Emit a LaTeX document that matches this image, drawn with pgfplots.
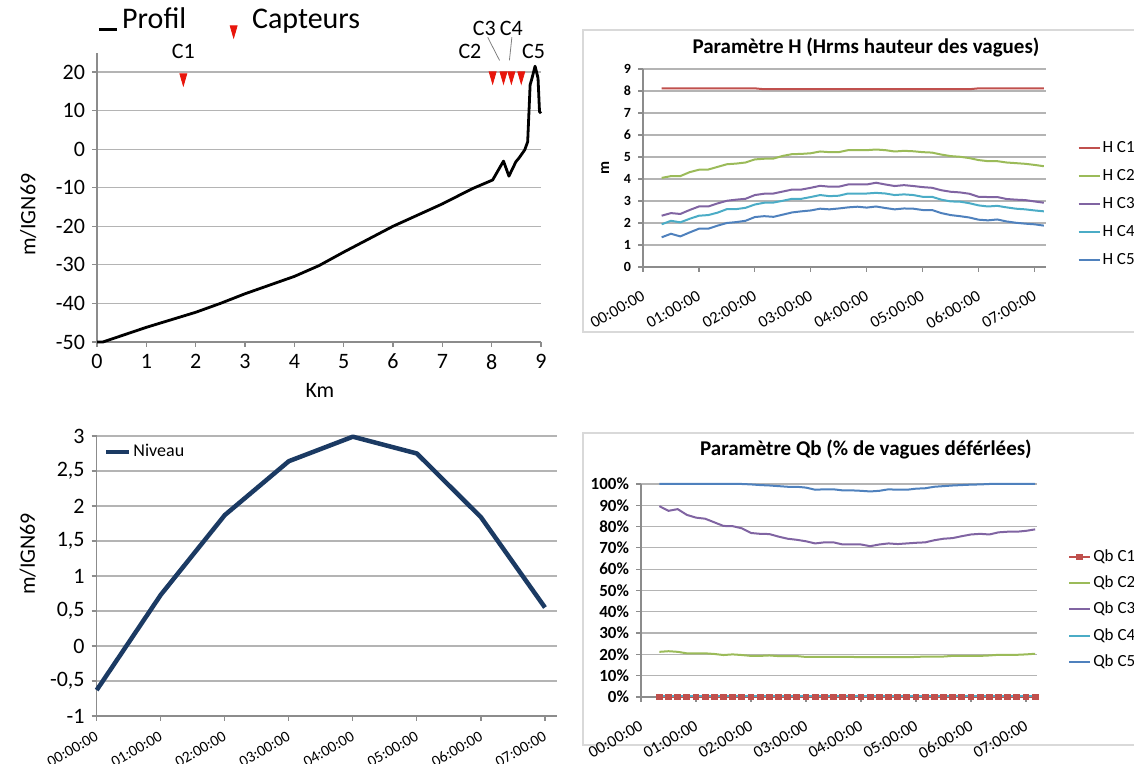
\documentclass[border=0pt]{standalone}
\usepackage{fontspec}
\setmainfont{Carlito}
\usepackage{pgfplots}
\usepackage{pgfplotstable}
\pgfplotsset{compat=1.18}
\definecolor{hA}{HTML}{C0504D}
\definecolor{hB}{HTML}{9BBB59}
\definecolor{hC}{HTML}{8064A2}
\definecolor{hD}{HTML}{4BACC6}
\definecolor{hE}{HTML}{4F81BD}
\definecolor{gridc}{HTML}{B4B4B4}
\definecolor{axc}{HTML}{8C8C8C}
\definecolor{boxc}{HTML}{D9D9D9}
\definecolor{navy}{HTML}{1B3A63}
\definecolor{capt}{HTML}{E8160C}

\pgfplotstableread{
t c1 c2 c3 c4 c5
0.3333 8.12 4.05 2.33 1.94 1.35
0.5 8.12 4.13 2.45 2.10 1.51
0.6667 8.12 4.13 2.41 2.03 1.39
0.8333 8.12 4.31 2.59 2.19 1.57
1.0 8.12 4.42 2.75 2.33 1.74
1.1667 8.12 4.43 2.75 2.36 1.74
1.3333 8.12 4.55 2.89 2.47 1.88
1.5 8.12 4.67 3.01 2.63 2.00
1.6667 8.12 4.70 3.06 2.63 2.04
1.8333 8.12 4.75 3.10 2.69 2.10
2.0 8.12 4.89 3.27 2.84 2.27
2.1667 8.08 4.92 3.33 2.92 2.31
2.3333 8.08 4.93 3.34 2.93 2.28
2.5 8.08 5.05 3.43 3.01 2.38
2.6667 8.08 5.13 3.52 3.10 2.48
2.8333 8.08 5.14 3.52 3.10 2.53
3.0 8.08 5.17 3.60 3.18 2.57
3.1667 8.08 5.25 3.69 3.27 2.65
3.3333 8.08 5.22 3.65 3.22 2.62
3.5 8.08 5.22 3.65 3.24 2.66
3.6667 8.08 5.31 3.75 3.34 2.71
3.8333 8.08 5.31 3.75 3.34 2.74
4.0 8.08 5.31 3.75 3.34 2.70
4.1667 8.08 5.34 3.83 3.37 2.75
4.3333 8.08 5.31 3.75 3.34 2.68
4.5 8.08 5.25 3.68 3.27 2.62
4.6667 8.08 5.28 3.72 3.30 2.66
4.8333 8.08 5.26 3.68 3.27 2.65
5.0 8.08 5.22 3.63 3.19 2.59
5.1667 8.08 5.20 3.60 3.19 2.59
5.3333 8.08 5.11 3.49 3.06 2.45
5.5 8.08 5.04 3.42 2.98 2.36
5.6667 8.08 5.01 3.39 2.97 2.31
5.8333 8.08 4.95 3.33 2.90 2.25
6.0 8.12 4.86 3.19 2.80 2.15
6.1667 8.12 4.81 3.18 2.75 2.12
6.3333 8.12 4.81 3.18 2.78 2.16
6.5 8.12 4.75 3.09 2.71 2.07
6.6667 8.12 4.72 3.06 2.65 2.01
6.8333 8.12 4.69 3.04 2.62 1.97
7.0 8.12 4.64 2.98 2.57 1.94
7.1667 8.12 4.58 2.92 2.53 1.88
}\Hdata

\pgfplotstableread{
t q1 q2 q3 q4 q5
0.3333 0 21.2 89.6 0.4 100
0.5 0 21.5 87.4 0.4 100
0.6667 0 21.2 88.2 0.4 100
0.8333 0 20.5 85.5 0.4 100
1.0 0 20.5 84.2 0.4 100
1.1667 0 20.5 83.7 0.4 100
1.3333 0 20.2 82.0 0.4 100
1.5 0 19.7 80.3 0.4 100
1.6667 0 20.0 80.2 0.4 100
1.8333 0 19.7 79.2 0.4 100
2.0 0 19.3 77.0 0.4 99.8
2.1667 0 19.3 76.6 0.4 99.5
2.3333 0 19.5 76.5 0.4 99.3
2.5 0 19.2 75.3 0.4 99.0
2.6667 0 19.2 74.3 0.4 98.7
2.8333 0 19.2 73.8 0.4 98.7
3.0 0 18.8 73.1 0.4 98.3
3.1667 0 18.8 72.1 0.4 97.3
3.3333 0 18.8 72.6 0.4 97.5
3.5 0 18.8 72.6 0.4 97.5
3.6667 0 18.8 71.6 0.4 97.0
3.8333 0 18.8 71.6 0.4 97.0
4.0 0 18.7 71.6 0.4 96.8
4.1667 0 18.7 70.8 0.4 96.5
4.3333 0 18.7 71.6 0.4 96.8
4.5 0 18.7 72.1 0.4 97.5
4.6667 0 18.7 71.8 0.4 97.3
4.8333 0 18.7 72.1 0.4 97.3
5.0 0 18.8 72.4 0.4 97.8
5.1667 0 19.0 72.6 0.4 98.0
5.3333 0 19.0 73.6 0.4 98.7
5.5 0 19.0 74.3 0.4 99.0
5.6667 0 19.3 74.6 0.4 99.3
5.8333 0 19.3 75.5 0.4 99.5
6.0 0 19.3 76.3 0.4 99.7
6.1667 0 19.3 76.6 0.4 99.8
6.3333 0 19.5 76.3 0.4 100
6.5 0 19.8 77.3 0.4 100
6.6667 0 19.8 77.6 0.4 100
6.8333 0 19.8 77.6 0.4 100
7.0 0 20.0 78.0 0.4 100
7.1667 0 20.3 78.7 0.4 100
}\Qdata

\pgfplotstableread{
km z
0 -50
0.12 -50
1 -46.2
2 -42.3
2.5 -40
3 -37.5
4 -33
4.5 -30.2
5 -26.7
6 -20
7 -14.2
7.6 -10.3
8.02 -8
8.24 -3.1
8.35 -7
8.49 -3.3
8.56 -2.2
8.67 -0.2
8.73 1.9
8.78 16.7
8.81 18
8.88 21.5
8.94 18.4
8.97 9.7
9.0 9.3
}\Profil

\pgfplotstableread{
km z
1.75 18.5
8.02 19.0
8.24 19.0
8.40 19.0
8.60 19.0
}\Capteurs

\pgfplotstableread{
t n
0 -0.63
1 0.73
2 1.87
3 2.64
4 2.99
5 2.75
6 1.84
7 0.55
}\Niveau

\pgfplotsset{
  excel/.style={
    scale only axis, anchor=south west,
    axis x line*=bottom, axis y line*=left,
    axis line style={-, draw=axc, line width=0.6pt},
    every outer x axis line/.append style={-},
    every outer y axis line/.append style={-},
    tick align=outside, major tick length=2.5pt,
    tick style={draw=axc, line width=0.6pt},
    ymajorgrids, grid style={draw=gridc, line width=0.6pt},
    /pgf/number format/assume math mode=true,
    clip=false,
  },
  timeaxis/.style={xmin=0, xtick={0,...,7},
    xticklabels={00:00:00,01:00:00,02:00:00,03:00:00,04:00:00,05:00:00,06:00:00,07:00:00}},
  lineleg/.style={legend image code/.code={\draw[##1] (0pt,0pt) -- (10.5pt,0pt);}},
  nivleg/.style={legend image code/.code={\draw[##1] (0pt,0pt) -- (11.5pt,0pt);}},
  dashleg/.style={legend image code/.code={\draw[##1] (0pt,-5pt) -- (9pt,-5pt);}},
  markleg/.style={legend image code/.code={\path (0pt,0pt) (12pt,0pt); \draw[##1] plot coordinates {(5pt,-5pt)};}},
  sqleg/.style={legend image code/.code={\draw[mark repeat=2, mark phase=2, ##1] plot coordinates {(0pt,0pt) (5.25pt,0pt) (10.5pt,0pt)};}},
}

\begin{document}
\begin{tikzpicture}
\useasboundingbox (0,0) rectangle (567pt,382pt);
\draw[boxc, line width=0.75pt] (291.5pt,216pt) rectangle (575pt,367pt);
\draw[boxc, line width=0.75pt] (291.5pt,9.5pt) rectangle (575pt,165.5pt);

% ---------- Top-left: profile ----------
\begin{axis}[excel,
  at={(48.5pt,211pt)}, width=222pt, height=144.65pt,
  xmin=0, xmax=9, ymin=-50, ymax=25,
  xtick={0,...,9}, ytick={-50,-40,...,20},
  tick label style={font=\fontsize{11}{13}\selectfont},
  xlabel={Km}, ylabel={m/IGN69},
  label style={font=\fontsize{11}{13}\selectfont},
  xlabel style={at={(axis description cs:0.502,-0.166)}, anchor=center},
  ylabel style={at={(axis description cs:-0.155,0.44)}, anchor=center},
  legend columns=2,
  legend style={at={(axis description cs:0,1.11)}, anchor=west, draw=none, fill=none,
    inner sep=0pt, font=\fontsize{15}{18}\selectfont,
    /tikz/every even column/.append style={column sep=16.5pt}},
]
\addplot[black, line width=1.4pt, line join=round, dashleg]
  table[x=km, y=z] {\Profil};
\addlegendentry{Profil}
\addplot[only marks, mark=triangle*, color=capt, mark size=2pt,
  mark options={rotate=180, yscale=2}, markleg]
  table[x=km, y=z] {\Capteurs};
\addlegendentry{Capteurs}
\node[font=\fontsize{11}{13}\selectfont] at (axis cs:1.75,25.2) {C1};
\node[font=\fontsize{11}{13}\selectfont] at (axis cs:7.56,25.2) {C2};
\node[font=\fontsize{11}{13}\selectfont] at (axis cs:7.85,31.2) {C3};
\node[font=\fontsize{11}{13}\selectfont] at (axis cs:8.40,31.2) {C4};
\node[font=\fontsize{11}{13}\selectfont] at (axis cs:8.85,25.4) {C5};
\draw[gray, line width=0.4pt] (axis cs:7.92,29.0) -- (axis cs:8.16,23.0);
\draw[gray, line width=0.4pt] (axis cs:8.41,29.0) -- (axis cs:8.36,23.0);
\end{axis}

% ---------- Top-right: H ----------
\node[font=\bfseries\fontsize{10.5}{12}\selectfont] at (433pt,358pt) {Paramètre H (Hrms hauteur des vagues)};
\begin{axis}[excel, timeaxis,
  at={(321.5pt,248.5pt)}, width=201.35pt, height=99pt,
  xmax=7.2, ymin=0, ymax=9, ytick={0,...,9},
  yticklabel style={font=\bfseries\fontsize{7}{8}\selectfont},
  xticklabel style={font=\fontsize{8.3}{9}\selectfont, yshift=-4pt, rotate=30, anchor=north east},
  ylabel={m}, ylabel style={font=\bfseries\fontsize{8}{9}\selectfont,
    at={(axis description cs:-0.094,0.5)}, anchor=center},
  legend cell align=left,
  legend style={at={(axis description cs:1.078,0.649)}, anchor=north west, draw=none, fill=none,
    inner sep=0pt, font=\fontsize{8.5}{10}\selectfont, row sep=4.4pt,
    nodes={inner sep=1pt, text height=6pt, text depth=1.5pt}},
]
\addplot[hA, line width=1pt, lineleg] table[x=t, y=c1] {\Hdata};
\addlegendentry{H C1}
\addplot[hB, line width=1pt, lineleg] table[x=t, y=c2] {\Hdata};
\addlegendentry{H C2}
\addplot[hC, line width=1pt, lineleg] table[x=t, y=c3] {\Hdata};
\addlegendentry{H C3}
\addplot[hD, line width=1pt, lineleg] table[x=t, y=c4] {\Hdata};
\addlegendentry{H C4}
\addplot[hE, line width=1pt, lineleg] table[x=t, y=c5] {\Hdata};
\addlegendentry{H C5}
\end{axis}

% ---------- Bottom-left: Niveau ----------
\begin{axis}[excel, timeaxis,
  at={(48.35pt,24pt)}, width=229.9pt, height=140pt,
  xmax=7.18, ymin=-1, ymax=3, ytick={-1,-0.5,0,0.5,1,1.5,2,2.5,3},
  /pgf/number format/use comma,
  yticklabel style={font=\fontsize{11}{13}\selectfont},
  xticklabel style={font=\fontsize{7.8}{9}\selectfont, yshift=0pt, rotate=30, anchor=north east},
  ylabel={m/IGN69}, ylabel style={font=\fontsize{11}{13}\selectfont,
    at={(axis description cs:-0.15,0.579)}, anchor=center},
  legend style={at={(axis description cs:0.015,0.943)}, anchor=west, draw=none, fill=none,
    inner sep=0pt, font=\fontsize{9}{11}\selectfont, nodes={inner sep=1pt}},
]
\addplot[navy, line width=2.25pt, line join=round, nivleg] table[x=t, y=n] {\Niveau};
\addlegendentry{Niveau}
\end{axis}

% ---------- Bottom-right: Qb ----------
\node[font=\bfseries\fontsize{10.5}{12}\selectfont] at (433pt,157.5pt) {Paramètre Qb (\% de vagues déférlées)};
\begin{axis}[excel, timeaxis,
  at={(320.5pt,33.5pt)}, width=198pt, height=106.5pt,
  xmax=7.2, ymin=0, ymax=100, ytick={0,10,...,100},
  yticklabel={\pgfmathprintnumber{\tick}\%},
  yticklabel style={font=\bfseries\fontsize{8.5}{10}\selectfont},
  xticklabel style={font=\fontsize{8.3}{9}\selectfont, yshift=-4pt, rotate=30, anchor=north east},
  legend cell align=left,
  legend style={at={(axis description cs:1.078,0.704)}, anchor=north west, draw=none, fill=none,
    inner sep=0pt, font=\fontsize{8.5}{10}\selectfont, row sep=3.6pt,
    nodes={inner sep=1pt, text height=6pt, text depth=1.5pt}},
]
\addplot[hA, line width=1pt, mark=square*, mark size=1.2pt, mark options={solid}, sqleg]
  table[x=t, y=q1] {\Qdata};
\addlegendentry{Qb C1}
\addplot[hB, line width=1pt, lineleg] table[x=t, y=q2] {\Qdata};
\addlegendentry{Qb C2}
\addplot[hC, line width=1pt, lineleg] table[x=t, y=q3] {\Qdata};
\addlegendentry{Qb C3}
\addplot[hD, line width=1pt, lineleg] table[x=t, y=q4] {\Qdata};
\addlegendentry{Qb C4}
\addplot[hE, line width=1pt, lineleg] table[x=t, y=q5] {\Qdata};
\addlegendentry{Qb C5}
\end{axis}
\end{tikzpicture}
\end{document}
